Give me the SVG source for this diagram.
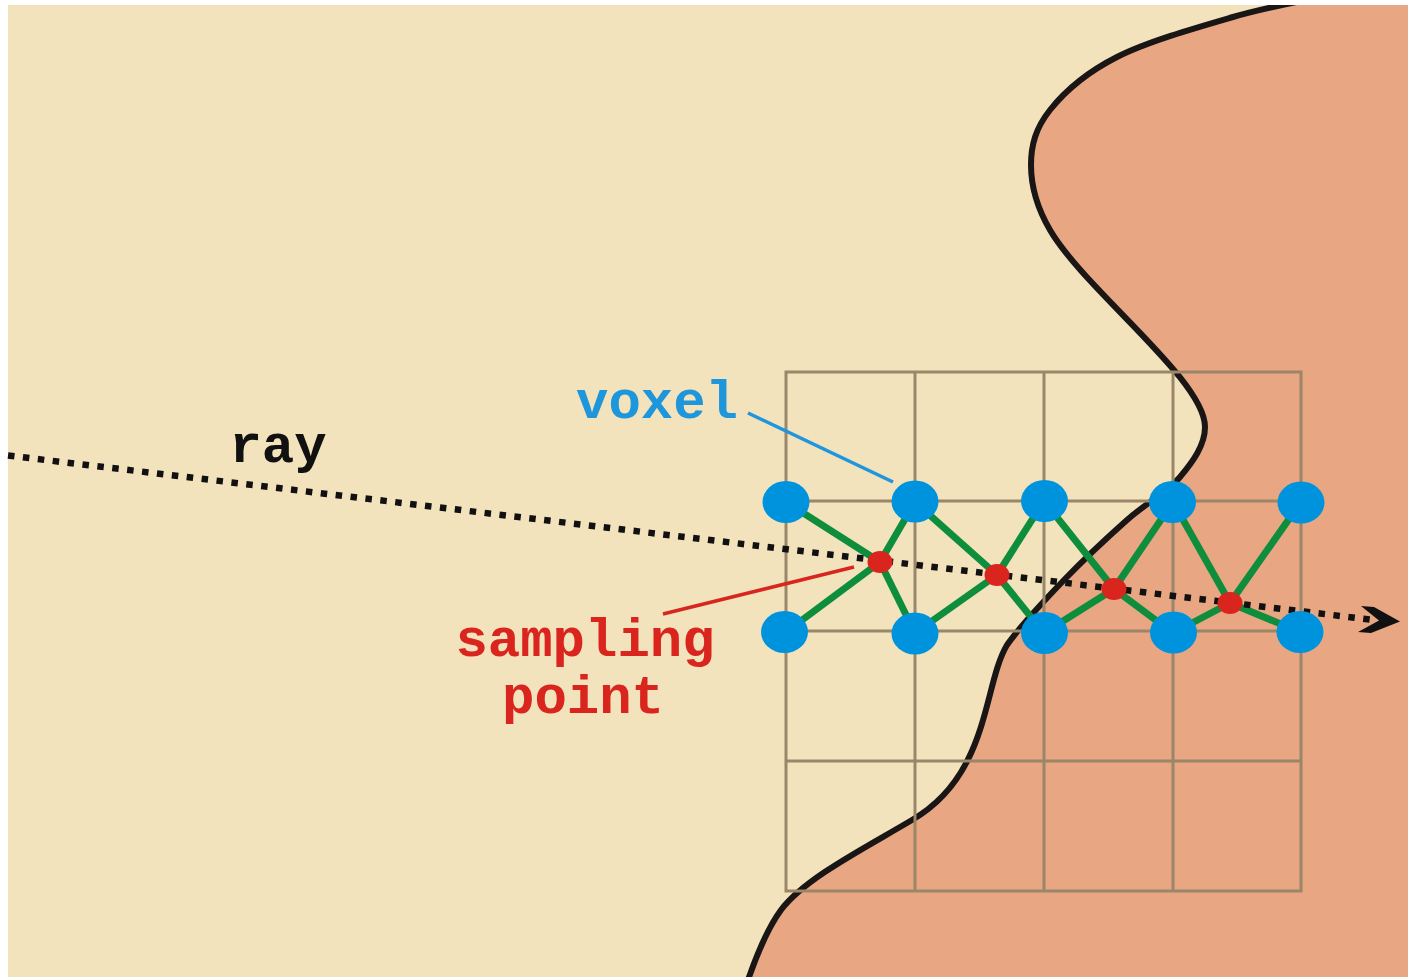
<svg xmlns="http://www.w3.org/2000/svg" width="1408" height="977" viewBox="0 0 1408 977">
  <defs>
    <clipPath id="frame"><rect x="8" y="5" width="1400" height="972"/></clipPath>
    <style>
      .grid { stroke: #9A8669; stroke-width: 3; fill: none; }
      .link { stroke: #0E8E3C; stroke-width: 7; stroke-linecap: butt; }
      .voxel { fill: #0093DD; }
      .sample { fill: #D9251D; }
      .lbl { font-family: "Courier New", "Liberation Mono", monospace; font-weight: bold; font-size: 54px; text-anchor: middle; }
    </style>
  </defs>
  <rect width="1408" height="977" fill="#FFFFFF"/>
  <g id="scene" clip-path="url(#frame)">
    <rect x="8" y="5" width="1400" height="972" fill="#F3E3BD"/>
    <path id="region" fill="#E8A682" d="M1330,-5 C1298.8,2 1268.5,6.7 1233,17 C1197.5,27.3 1147.5,41.5 1117,57 C1086.5,72.5 1064.3,92 1050,110 C1035.7,128 1031,145 1031,165 C1031,185 1036,206 1050,230 C1085,290 1205,380 1205,427 C1205,445 1193,461.5 1180,477 C1167,492.5 1146.3,502.8 1127,520 C1107.7,537.2 1084,559.2 1064,580 C1044,600.8 1020,626.2 1007,645 C983,685 990,775 912,820 C865,848 805,878 781,910 C766,930 755,960 748,980 L1420,980 L1420,-5 Z"/>
    <path id="boundary" fill="none" stroke="#1A1616" stroke-width="6" d="M1330,-5 C1298.8,2 1268.5,6.7 1233,17 C1197.5,27.3 1147.5,41.5 1117,57 C1086.5,72.5 1064.3,92 1050,110 C1035.7,128 1031,145 1031,165 C1031,185 1036,206 1050,230 C1085,290 1205,380 1205,427 C1205,445 1193,461.5 1180,477 C1167,492.5 1146.3,502.8 1127,520 C1107.7,537.2 1084,559.2 1064,580 C1044,600.8 1020,626.2 1007,645 C983,685 990,775 912,820 C865,848 805,878 781,910 C766,930 755,960 748,980"/>
  </g>
  <g id="grid" class="grid">
    <rect x="786" y="372" width="515" height="519"/>
    <line x1="915" y1="372" x2="915" y2="891"/>
    <line x1="1044" y1="372" x2="1044" y2="891"/>
    <line x1="1173" y1="372" x2="1173" y2="891"/>
    <line x1="786" y1="501" x2="1301" y2="501"/>
    <line x1="786" y1="631" x2="1301" y2="631"/>
    <line x1="786" y1="761" x2="1301" y2="761"/>
  </g>
  <g id="connectors">
    <g id="interp-links" class="link">
      <line x1="880" y1="562" x2="786" y2="502"/>
      <line x1="880" y1="562" x2="915" y2="502"/>
      <line x1="880" y1="562" x2="786" y2="632"/>
      <line x1="880" y1="562" x2="915" y2="633"/>
      <line x1="997" y1="575" x2="915" y2="502"/>
      <line x1="997" y1="575" x2="1044" y2="501"/>
      <line x1="997" y1="575" x2="915" y2="633"/>
      <line x1="997" y1="575" x2="1044" y2="633"/>
      <line x1="1114" y1="589" x2="1044" y2="501"/>
      <line x1="1114" y1="589" x2="1173" y2="502"/>
      <line x1="1114" y1="589" x2="1044" y2="633"/>
      <line x1="1114" y1="589" x2="1173" y2="633"/>
      <line x1="1230" y1="603" x2="1173" y2="502"/>
      <line x1="1230" y1="603" x2="1301" y2="502"/>
      <line x1="1230" y1="603" x2="1173" y2="633"/>
      <line x1="1230" y1="603" x2="1300" y2="632"/>
    </g>
    <g id="ray">
      <line x1="8" y1="455.5" x2="1378" y2="620.5" stroke="#111111" stroke-width="6.5" stroke-dasharray="6.5 8.5"/>
      <polygon points="1361,606 1374,607 1400,621.5 1371,633 1358,632 1379,620.5" fill="#111111"/>
    </g>
    <line id="voxel-leader" x1="748" y1="413" x2="893" y2="482" stroke="#1E95DC" stroke-width="3.5"/>
    <line id="sample-leader" x1="663" y1="614" x2="854" y2="567" stroke="#D7261E" stroke-width="3.5"/>
  </g>
  <g id="voxels" class="voxel">
    <ellipse id="v1" cx="786" cy="502" rx="23.5" ry="21"/>
    <ellipse id="v2" cx="915" cy="501.5" rx="23.5" ry="21"/>
    <ellipse id="v3" cx="1044.5" cy="501" rx="23.5" ry="21"/>
    <ellipse id="v4" cx="1172.5" cy="502" rx="23.5" ry="21"/>
    <ellipse id="v5" cx="1301" cy="502.5" rx="23.5" ry="21"/>
    <ellipse id="v6" cx="784.5" cy="632" rx="23.5" ry="21"/>
    <ellipse id="v7" cx="915" cy="633.5" rx="23.5" ry="21"/>
    <ellipse id="v8" cx="1044.5" cy="633" rx="23.5" ry="21"/>
    <ellipse id="v9" cx="1173.5" cy="632.5" rx="23.5" ry="21"/>
    <ellipse id="v10" cx="1300" cy="632" rx="23.5" ry="21"/>
  </g>
  <g id="samples" class="sample">
    <ellipse id="s1" cx="880" cy="562" rx="12.5" ry="11"/>
    <ellipse id="s2" cx="997" cy="575" rx="12.5" ry="11"/>
    <ellipse id="s3" cx="1114" cy="589" rx="12.5" ry="11"/>
    <ellipse id="s4" cx="1230" cy="603" rx="12.5" ry="11"/>
  </g>
  <g id="labels">
    <text id="label-ray" class="lbl" x="278" y="462" fill="#111111">ray</text>
    <text id="label-voxel" class="lbl" x="657" y="418" fill="#1E96DC">voxel</text>
    <text id="label-sampling" class="lbl" fill="#D9251D"><tspan x="585" y="656">sampling</tspan><tspan x="583" y="713">point</tspan></text>
  </g>
</svg>
